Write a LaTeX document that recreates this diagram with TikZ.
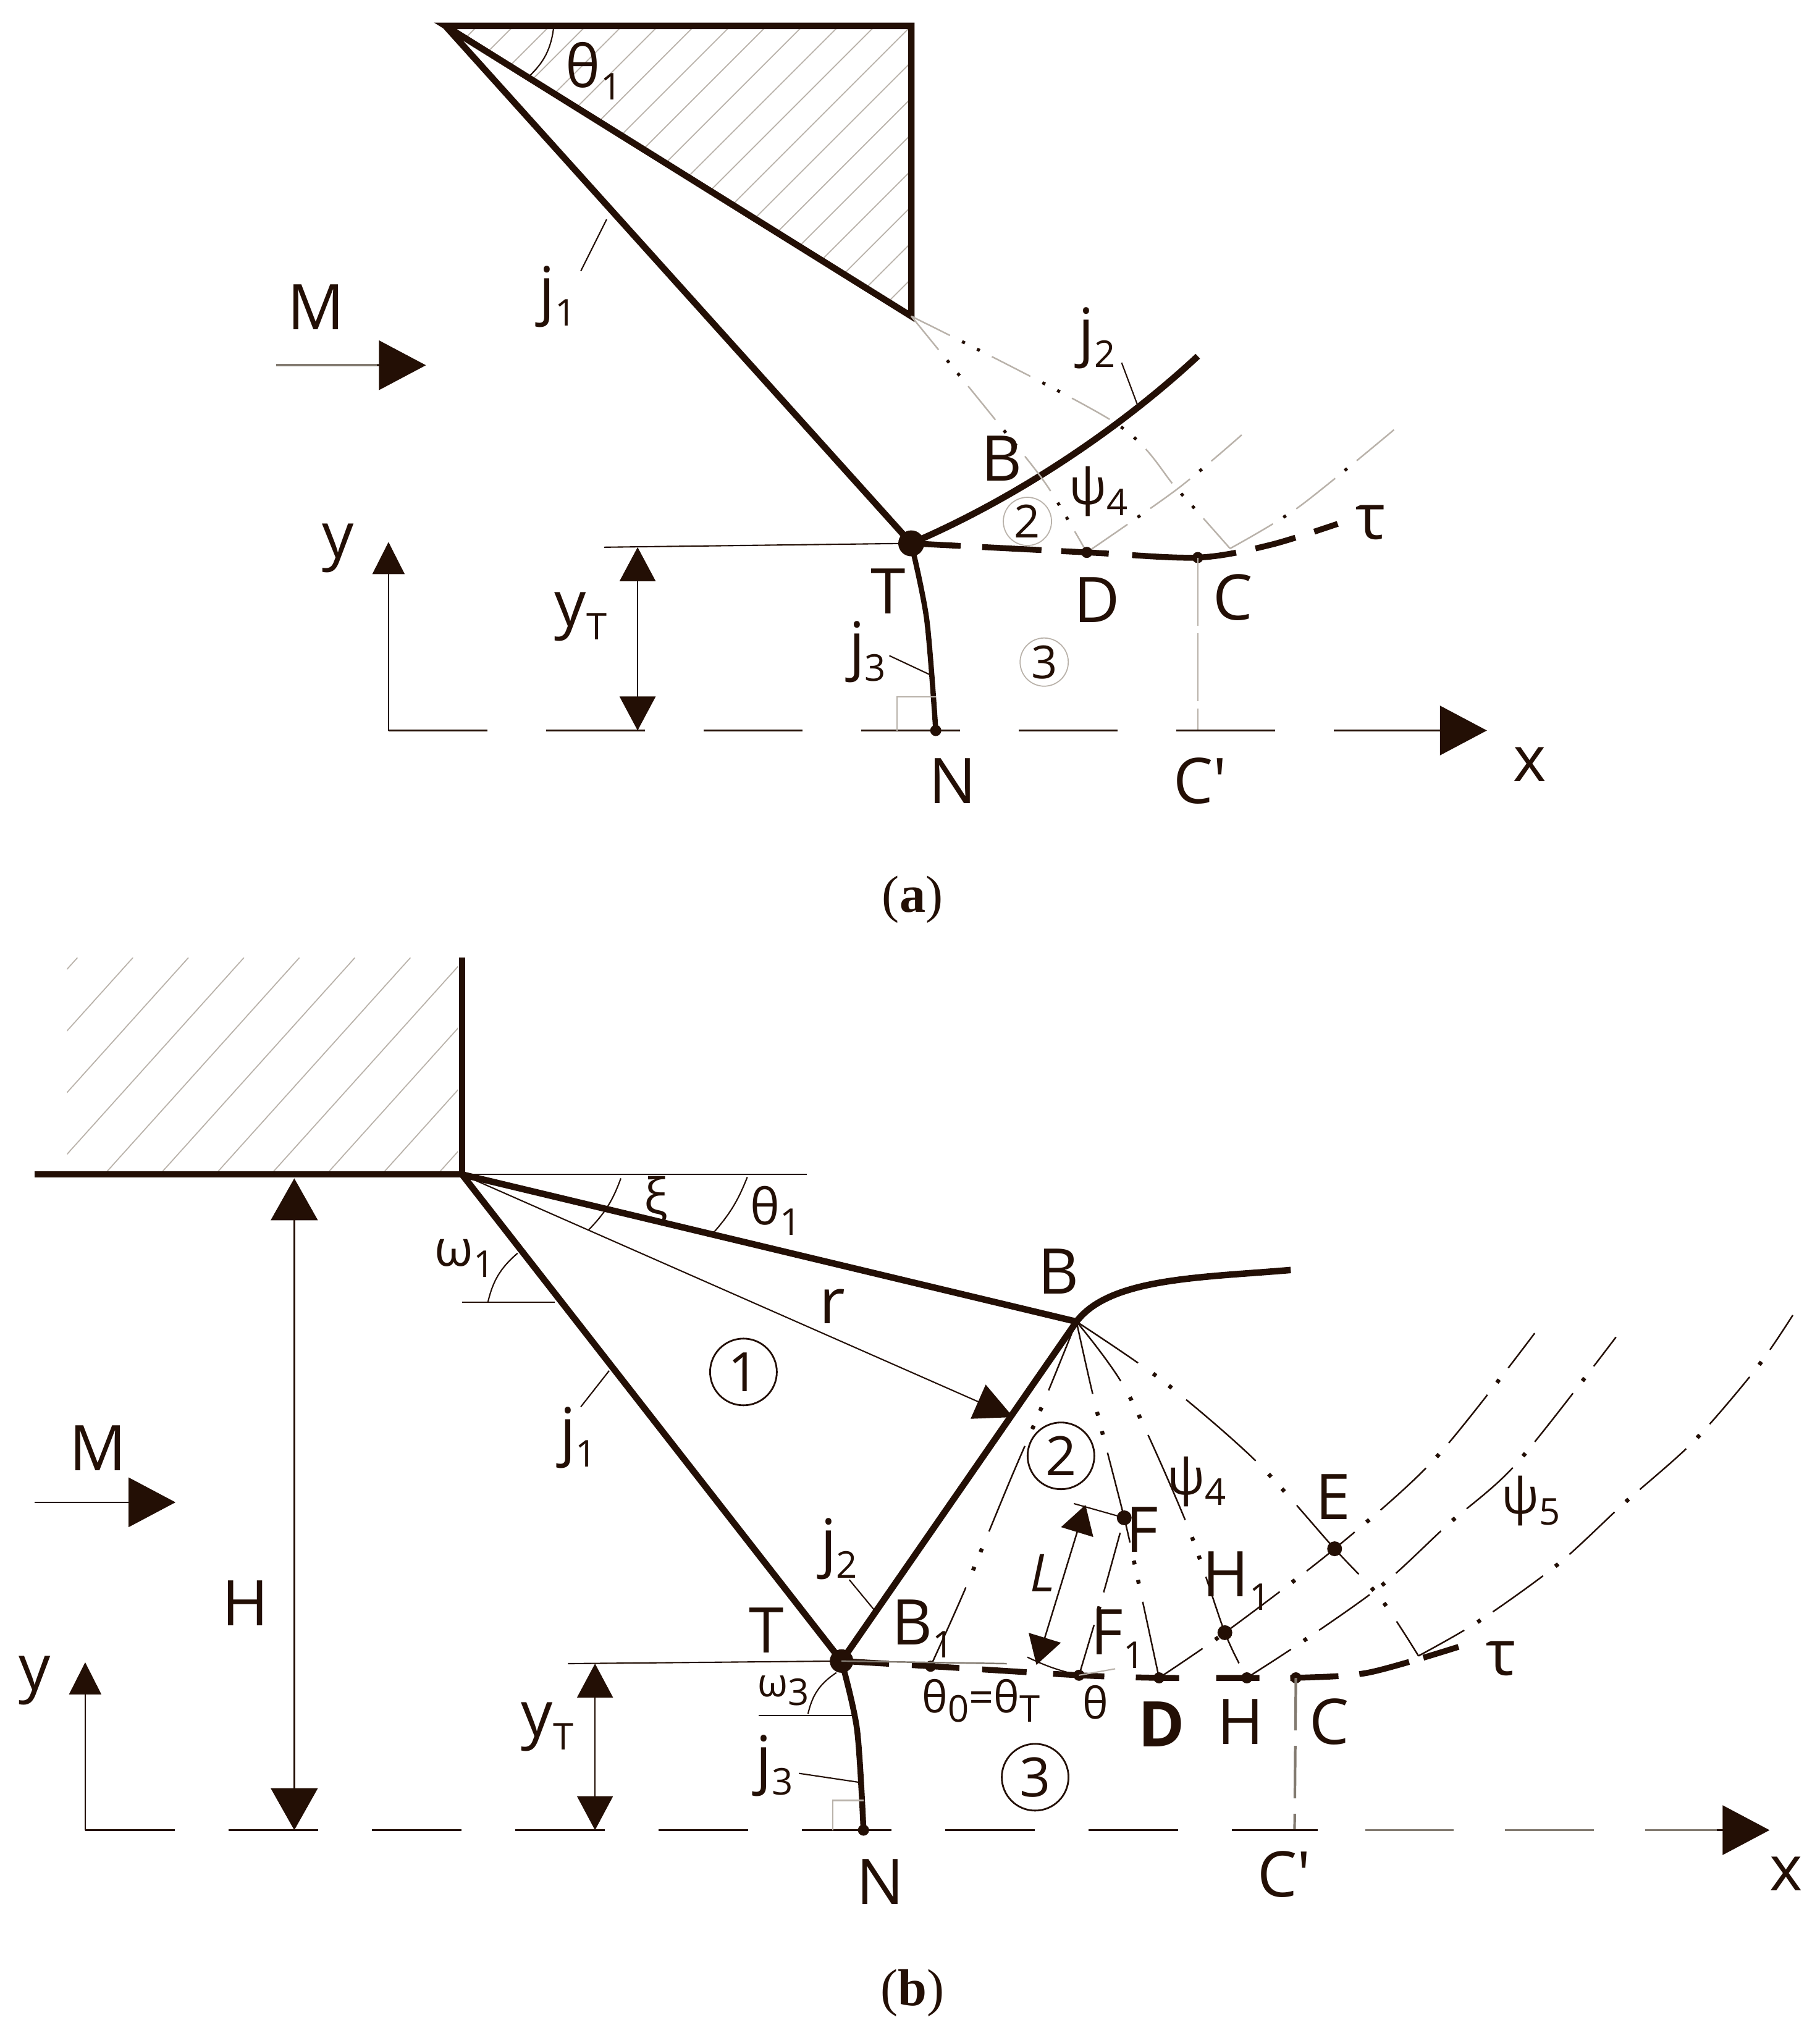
\documentclass[tikz,border=0pt]{standalone}
\usepackage{fontspec}
\setmainfont{Open Sans}
\newfontfamily\capfont{Liberation Serif}
\usetikzlibrary{arrows.meta}
\definecolor{ink}{RGB}{35,15,5}
\definecolor{pale}{RGB}{185,178,170}
\definecolor{mid}{RGB}{130,122,112}
\newcommand{\lowidx}[1]{\raisebox{-0.4ex}{\fontsize{17}{17}\selectfont #1}}
\tikzset{
  lab/.style={inner sep=0pt,text=ink,font=\fontsize{29}{29}\selectfont},
  small/.style={inner sep=0pt,text=ink,font=\fontsize{23}{23}\selectfont},
  heavy/.style={ink,line width=0.105cm,line join=miter},
  hair/.style={ink,line width=0.6pt},
  % families of lines in the fan: two dots from the corner, one dot across
  twodot/.style={ink,line width=0.7pt,dash pattern=on 1.5cm off 0.3cm on 0.06cm off 0.26cm on 0.06cm off 0.3cm,dash phase=0.3cm,
    postaction={draw,ink,line width=0.065cm,dash pattern=on 0cm off 1.8cm on 0.06cm off 0.26cm on 0.06cm off 0.3cm,dash phase=0.3cm}},
  onedot/.style={ink,line width=0.7pt,dash pattern=on 1.0cm off 0.25cm on 0.06cm off 0.24cm,dash phase=0.15cm,
    postaction={draw,ink,line width=0.065cm,dash pattern=on 0cm off 1.25cm on 0.06cm off 0.24cm,dash phase=0.15cm}},
  paletwo/.style={pale,line width=0.7pt,dash pattern=on 0.7cm off 0.22cm on 0.05cm off 0.22cm on 0.05cm off 0.22cm,
    postaction={draw,ink,line width=0.05cm,dash pattern=on 0cm off 0.92cm on 0.05cm off 0.22cm on 0.05cm off 0.22cm}},
  paleone/.style={pale,line width=0.7pt,dash pattern=on 0.8cm off 0.2cm on 0.05cm off 0.2cm,
    postaction={draw,ink,line width=0.05cm,dash pattern=on 0cm off 1cm on 0.05cm off 0.2cm}},
  hatchline/.style={pale,line width=0.5pt},
  bighead/.style={-{Triangle[length=0.76cm,width=0.8cm]}},
  lowhead/.style={-{Triangle[length=0.52cm,width=0.52cm]}},
  midhead/.style={-{Triangle[length=0.62cm,width=0.6cm]}},
  hightwo/.style={{Triangle[length=0.68cm,width=0.76cm]}-{Triangle[length=0.68cm,width=0.76cm]}},
  lowtwo/.style={{Triangle[length=0.55cm,width=0.58cm]}-{Triangle[length=0.55cm,width=0.58cm]}},
  tinytwo/.style={{Triangle[length=0.46cm,width=0.54cm]}-{Triangle[length=0.46cm,width=0.54cm]}},
  ringa/.style={circle,draw=pale,line width=0.5pt,minimum size=0.78cm,inner sep=0pt,text=ink,font=\fontsize{21}{21}\selectfont},
  ringb/.style={circle,draw=ink,line width=0.8pt,minimum size=1.08cm,inner sep=0pt,text=ink,font=\fontsize{25}{25}\selectfont},
}
\begin{document}
\begin{tikzpicture}[x=0.020894cm,y=-0.020894cm]
  \useasboundingbox (0,0) rectangle (1410,1569);
  % panel a
  \coordinate (aO) at (345,20);
  \coordinate (aR) at (706,20);
  \coordinate (aS) at (706,245);
  \coordinate (aT) at (706,421);
  \coordinate (aD) at (842,428);
  \coordinate (aC) at (928,432);
  \coordinate (aE) at (953,425);
  \coordinate (aN) at (725,566);
  \coordinate (aP) at (928,566);
  \coordinate (aY) at (301,566);
  \begin{scope}
    \clip (aO) -- (aR) -- (aS) -- cycle;
    \foreach \h in {370,398,...,1200} \draw[hatchline] (\h,20) -- ++(-300,300);
  \end{scope}
  \draw[heavy] (aO) -- (aR) -- (aS) -- cycle;
  \draw[heavy] (aO) -- (aT);
  \draw[heavy] (aT) .. controls (790,385) and (870,330) .. (928,276);
  \draw[ink,line width=0.085cm] plot[smooth] coordinates {(aT) (718,480) (aN)};
  \draw[paletwo] plot[smooth] coordinates {(aS) (775,330) (811,376) (aD)};
  \draw[paletwo] plot[smooth] coordinates {(aS) (863,327) (912,379) (aE)};
  \draw[paleone] plot[smooth] coordinates {(aD) (912,379) (962,337)};
  \draw[paleone] plot[smooth] coordinates {(aE) (1006,393) (1080,333)};
  \draw[ink,line width=0.095cm,dash pattern=on 0.8cm off 0.35cm on 0.96cm off 0.32cm on 0.77cm off 0.38cm on 1.69cm off 0.32cm on 0.67cm off 0.32cm on 0.4cm off 2cm]
    plot[smooth] coordinates {(aT) (aD) (aC) (985,422) (1042,404)};
  \foreach \p in {aD,aC,aN} \fill[ink] (\p) circle (0.09cm);
  \fill[ink] (aT) circle (0.21cm);
  \draw[pale,line width=0.6pt,dash pattern=on 1.1cm off 0.12cm] (aC) -- (aP);
  \draw[ink,line width=0.7pt,dash pattern=on 1.6cm off 0.95cm] (aY) -- (1118,566);
  \draw[ink,line width=0.7pt,bighead] (1038,566) -- (1152,566);
  \draw[ink,line width=0.7pt,lowhead] (aY) -- (301,420);
  \draw[hair] (468,424) -- (aT);
  \draw[ink,line width=0.7pt,lowtwo] (494,424) -- (494,566);
  \draw[mid,line width=1pt] (214,283) -- (300,283);
  \draw[ink,line width=0.7pt,bighead] (292,283) -- (330,283);
  \draw[hair] (450,210) -- (470,170);
  \draw[hair] (869,281) -- (881,313);
  \draw[hair] (689,508) -- (721,523);
  \draw[pale,line width=0.6pt] (695,566) -- (695,540) -- (725,540);
  \draw[hair] (429,21) to[bend left=20] (409,60);
  \node[small,font=\fontsize{27}{27}\selectfont] (athetaone) at (460,55) {θ\lowidx{1}};
  \node[lab] (aM) at (245,238) {M};
  \node[lab] (ajone) at (432,230) {j\lowidx{1}};
  \node[lab] (ajtwo) at (850,262) {j\lowidx{2}};
  \node[lab] (ajthree) at (672,505) {j\lowidx{3}};
  \node[lab] (aBl) at (776,355) {B};
  \node[small] (apsi) at (851,381) {ψ\lowidx{4}};
  \node[lab] (atau) at (1062,405) {τ};
  \node[lab] (aTl) at (688,458) {T};
  \node[lab] (aDl) at (850,465) {D};
  \node[lab] (aCl) at (955,463) {C};
  \node[lab] (aNl) at (738,605) {N};
  \node[lab] (aPl) at (930,605) {C′};
  \node[lab] (axl) at (1185,592) {x};
  \node[lab] (ayl) at (262,425) {y};
  \node[lab] (ayT) at (450,478) {y\lowidx{T}};
  \node[ringa] (atwo) at (796,404) {2};
  \node[ringa] (athree) at (809,513) {3};
  \node[inner sep=0pt,text=ink,font=\capfont\fontsize{24}{24}\selectfont] (acap) at (707,697) {(\textbf{a})};
  % panel b
  \coordinate (bO) at (358,910);
  \coordinate (bB) at (834,1024);
  \coordinate (bT) at (652,1287);
  \coordinate (bA) at (721,1291);
  \coordinate (bF) at (871,1176);
  \coordinate (bG) at (836,1298);
  \coordinate (bD) at (898,1300);
  \coordinate (bI) at (949,1265);
  \coordinate (bH) at (966,1300);
  \coordinate (bC) at (1004,1300);
  \coordinate (bE) at (1034,1200);
  \coordinate (bK) at (1099,1283);
  \coordinate (bN) at (669,1418);
  \coordinate (bP) at (1003,1418);
  \coordinate (bY) at (66,1418);
  \begin{scope}
    \clip (52,742) rectangle (355,908);
    \foreach \h in {60,103,...,600} \draw[hatchline] (\h,742) -- ++(-180,200);
  \end{scope}
  \draw[heavy] (358,742) -- (bO);
  \draw[heavy] (27,910) -- (bO);
  \draw[hair] (bO) -- (625,910);
  \draw[heavy] (bO) -- (bB);
  \draw[heavy] (bO) -- (bT);
  \draw[heavy] (bT) -- (bB);
  \draw[heavy] (bB) .. controls (860,990) and (930,990) .. (1000,984);
  \draw[ink,line width=0.095cm] plot[smooth] coordinates {(bT) (664,1340) (bN)};
  \draw[hair,midhead] (bO) -- (785,1098);
  \draw[twodot] plot[smooth] coordinates {(bB) (808,1088) (783,1146) (747,1233) (bA)};
  \draw[twodot] plot[smooth] coordinates {(bB) (848,1086) (bF) (881,1221) (bD)};
  \draw[twodot] plot[smooth] coordinates {(bB) (873,1078) (920,1182) (bI) (bH)};
  \draw[twodot] plot[smooth] coordinates {(bB) (901,1070) (973,1132) (bE) (1070,1239) (bK)};
  \draw[onedot] plot[smooth] coordinates {(bG) (855,1234) (bF)};
  \draw[onedot] plot[smooth] coordinates {(bD) (bI) (bE) (1112,1130) (1189,1033)};
  \draw[onedot] plot[smooth] coordinates {(bH) (1009,1272) (1071,1228) (1122,1181) (1175,1134) (1252,1036)};
  \draw[onedot] plot[smooth] coordinates {(bK) (1146,1256) (1207,1212) (1258,1165) (1312,1117) (1361,1060) (1389,1019)};
  \draw[ink,line width=0.095cm,dash pattern=on 0.77cm off 0.37cm on 0.77cm off 0.37cm on 0.72cm off 0.43cm on 0.83cm off 0.51cm on 0.7cm off 0.6cm on 0.7cm off 0.5cm on 0.78cm off 0.34cm on 0.83cm off 0.24cm on 0.64cm off 2cm]
    plot[smooth] coordinates {(bT) (bA) (bG) (bD) (bH) (bC) (1060,1296) (1130,1276)};
  \foreach \p in {bA,bG,bD,bH,bC,bN} \fill[ink] (\p) circle (0.09cm);
  \foreach \p in {bF,bI,bE} \fill[ink] (\p) circle (0.12cm);
  \fill[ink] (bT) circle (0.19cm);
  \draw[mid,line width=1.2pt,dash pattern=on 0.85cm off 0.25cm] (bC) -- (bP);
  \draw[ink,line width=0.7pt,dash pattern=on 1.45cm off 0.87cm] (bY) -- (1021,1418);
  \draw[mid,line width=1.1pt,dash pattern=on 1.43cm off 0.83cm] (1058,1418) -- (1340,1418);
  \draw[ink,line width=0.7pt,bighead] (1330,1418) -- (1371,1418);
  \draw[ink,line width=0.7pt,lowhead] (bY) -- (66,1288);
  \draw[hair] (440,1289) -- (bT);
  \draw[mid,line width=0.7pt] (bT) -- (780,1289);
  \draw[ink,line width=0.7pt,lowtwo] (461,1289) -- (461,1418);
  \draw[ink,line width=0.7pt,hightwo] (228,913) -- (228,1418);
  \draw[hair] (27,1164) -- (110,1164);
  \draw[ink,line width=0.7pt,bighead] (100,1164) -- (136,1164);
  \draw[hair] (358,1009) -- (430,1009);
  \draw[hair] (378,1009) to[bend left=18] (401,971);
  \draw[hair] (456,953) to[bend right=12] (481,913);
  \draw[hair] (552,956) to[bend right=10] (579,912);
  \draw[hair] (450,1090) -- (472,1062);
  \draw[hair] (658,1224) -- (677,1247);
  \draw[hair] (619,1374) -- (666,1381);
  \draw[hair] (588,1329) -- (660,1329);
  \draw[hair] (626,1328) to[bend left=22] (648,1296);
  \draw[pale,line width=0.6pt] (645,1418) -- (645,1395) -- (669,1395);
  \draw[ink,line width=0.7pt,tinytwo] (841,1166) -- (803,1290);
  \draw[hair] (832,1165) -- (bF);
  \draw[hair] (796,1284) to[bend right=6] (bG);
  \draw[pale,line width=0.6pt] (bG) -- (864,1293);
  \node[small] (bxi) at (508,930) {ξ};
  \node[small] (bthetaone) at (601,938) {θ\lowidx{1}};
  \node[small] (bomegaone) at (360,975) {ω\lowidx{1}};
  \node[small,font=\fontsize{18}{18}\selectfont] (bomegathree) at (607,1310) {ω\lowidx{3}};
  \node[lab] (bBl) at (820,985) {B};
  \node[lab] (brl) at (645,1012) {r};
  \node[lab] (bMl) at (76,1122) {M};
  \node[lab] (bjone) at (448,1114) {j\lowidx{1}};
  \node[lab] (bjtwo) at (650,1200) {j\lowidx{2}};
  \node[lab] (bjthree) at (600,1368) {j\lowidx{3}};
  \node[lab] (bHl) at (190,1242) {H};
  \node[lab] (byl) at (27,1302) {y};
  \node[lab] (byT) at (424,1338) {y\lowidx{T}};
  \node[lab] (bTl) at (594,1263) {T};
  \node[lab] (bBone) at (715,1262) {B\lowidx{1}};
  \node[inner sep=0pt,text=ink,font=\itshape\fontsize{24}{24}\selectfont] (bLl) at (808,1219) {L};
  \node[lab] (bFl) at (885,1185) {F};
  \node[lab] (bFone) at (866,1270) {F\lowidx{1}};
  \node[lab] (bHone) at (958,1225) {H\lowidx{1}};
  \node[lab] (bEl) at (1033,1160) {E};
  \node[small] (bpsifour) at (927,1148) {ψ\lowidx{4}};
  \node[small] (bpsifive) at (1186,1163) {ψ\lowidx{5}};
  \node[lab] (btau) at (1163,1285) {τ};
  \node[small,font=\fontsize{20}{20}\selectfont] (bthetazero) at (760,1318) {θ\lowidx{0}=θ\lowidx{T}};
  \node[small,font=\fontsize{20}{20}\selectfont] (bthetal) at (849,1319) {θ};
  \node[lab,font=\bfseries\fontsize{29}{29}\selectfont] (bDl) at (900,1336) {D};
  \node[lab] (bHl2) at (961,1334) {H};
  \node[lab] (bCl) at (1030,1334) {C};
  \node[lab] (bNl) at (682,1458) {N};
  \node[lab] (bPl) at (995,1452) {C′};
  \node[lab] (bxl) at (1384,1452) {x};
  \node[ringb] (bone) at (576,1063) {1};
  \node[ringb] (btwo) at (822,1128) {2};
  \node[ringb] (bthree) at (802,1377) {3};
  \node[inner sep=0pt,text=ink,font=\capfont\fontsize{24}{24}\selectfont] (bcap) at (707,1544) {(\textbf{b})};
\end{tikzpicture}
\end{document}
